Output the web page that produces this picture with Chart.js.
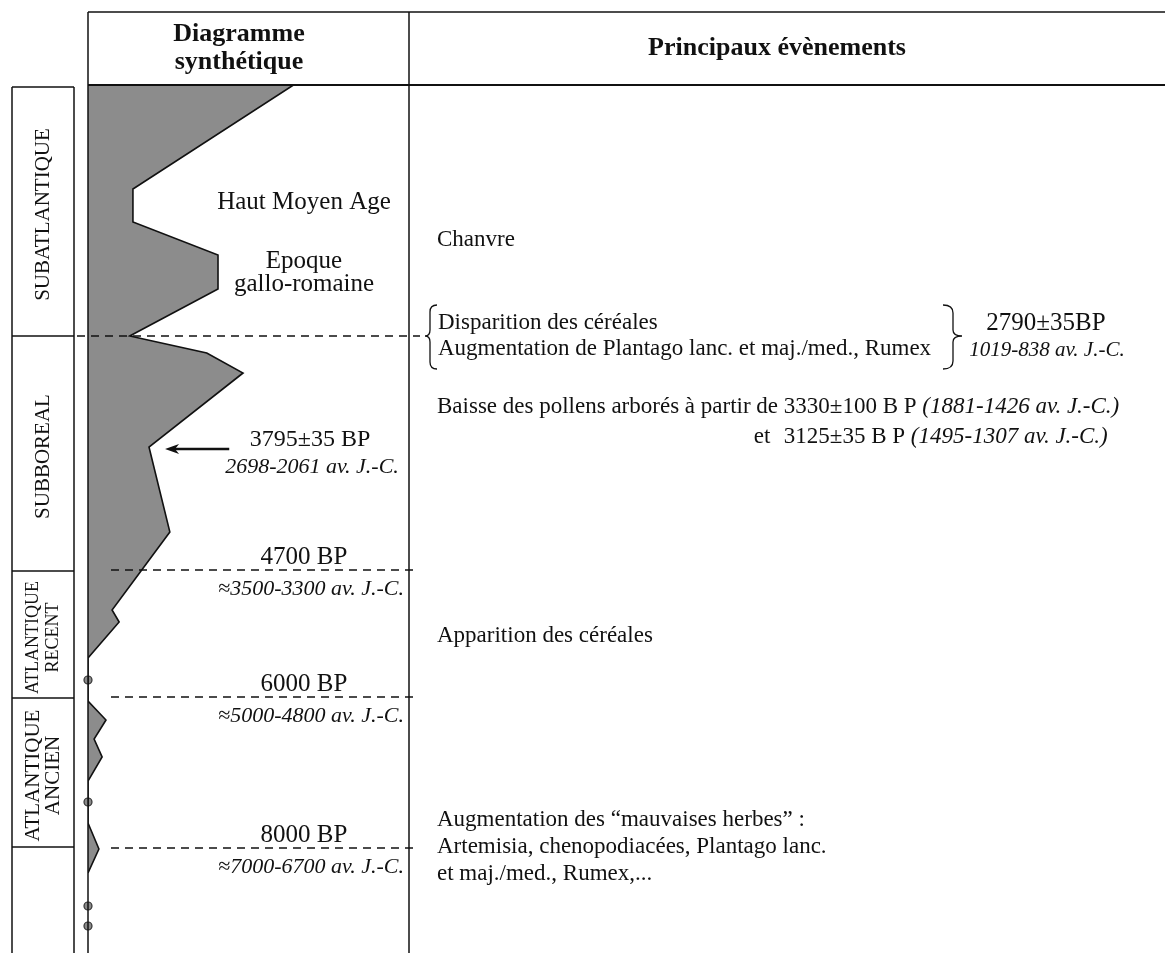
<!DOCTYPE html>
<html lang="fr">
<head>
<meta charset="UTF-8">
<title>Diagramme synthétique</title>
<script src="https://cdn.jsdelivr.net/npm/chart.js"></script>
<style>
  body { margin: 0; background: #fff; }
  canvas { display: block; }
</style>
</head>
<body>
<canvas id="diagram" width="1165" height="953"></canvas>
<script>
// profondeur (unités du diagramme, 0 = sommet) et valeur de la courbe synthétique (%)
const profileDepth = [0, 52, 68.5, 85, 102, 125.5, 134, 144, 181, 223.5, 262.5, 268.5, 286.5, 308, 317.5, 327, 336, 348, 369, 382, 394];
const profileValue = [64, 14, 14, 40.5, 40.5, 13, 37, 48.3, 19, 25.5, 7.5, 9.7, 0, 0, 5.6, 1.9, 4.4, 0, 0, 3.4, 0];
const sampleDepths = [297.5, 358.5, 410.5, 420.5];

// chronozones
const zoneNames = [['SUBATLANTIQUE'], ['SUBBOREAL'], ['ATLANTIQUE', 'RECENT'], ['ATLANTIQUE', 'ANCIEN'], []];
const zoneTops = [1, 125.5, 243, 306.5, 381];
const zoneBottoms = [125.5, 243, 306.5, 381, 434];

// datations
const dateDepths = [125.5, 242.5, 306, 381.5];
const dateBP = ['2790±35BP', '4700 BP', '6000 BP', '8000 BP'];
const dateCal = ['1019-838 av. J.-C.', '≈3500-3300 av. J.-C.', '≈5000-4800 av. J.-C.', '≈7000-6700 av. J.-C.'];

// datation pointée par la flèche
const arrowDepth = 182;
const arrowFrom = 44, arrowTo = 24;
const arrowBP = '3795±35 BP';
const arrowCal = '2698-2061 av. J.-C.';

// périodes historiques
const periodDepths = [58.5, 94];
const periodTexts = [['Haut Moyen Age'], ['Epoque', 'gallo-romaine']];

// principaux évènements
const eventDepths = [77.5, 125.5, 168.5, 275.5, 381];
const eventTexts = [
  ['Chanvre'],
  ['Disparition des céréales', 'Augmentation de Plantago lanc. et maj./med., Rumex'],
  ['Baisse des pollens arborés à partir de 3330±100 B P (1881-1426 av. J.-C.)', 'et  3125±35 B P (1495-1307 av. J.-C.)'],
  ['Apparition des céréales'],
  ['Augmentation des “mauvaises herbes” :', 'Artemisia, chenopodiacées, Plantago lanc.', 'et maj./med., Rumex,...']
];

const SERIF = '"Liberation Serif", "Times New Roman", serif';
const INK = '#111';

function font(size, style) { return (style || '') + ' ' + size + 'px ' + SERIF; }

// texte normal, puis partie entre parenthèses en italique
function mixedText(ctx, str, x, y, size) {
  const k = str.indexOf('(');
  const plain = k < 0 ? str : str.slice(0, k);
  ctx.font = font(size);
  ctx.fillText(plain, x, y);
  if (k >= 0) {
    const w = ctx.measureText(plain).width;
    ctx.font = font(size, 'italic');
    ctx.fillText(str.slice(k), x + w, y);
  }
}

function hLine(ctx, x1, x2, y, w) {
  ctx.lineWidth = w; ctx.beginPath(); ctx.moveTo(x1, y); ctx.lineTo(x2, y); ctx.stroke();
}
function vLine(ctx, x, y1, y2, w) {
  ctx.lineWidth = w; ctx.beginPath(); ctx.moveTo(x, y1); ctx.lineTo(x, y2); ctx.stroke();
}

const tablePlugin = {
  id: 'table',
  afterDatasetsDraw(chart) {
    const ctx = chart.ctx;
    const ys = chart.scales.y, xs = chart.scales.x;
    ctx.save();
    ctx.strokeStyle = INK;
    // lignes de datation en tirets
    ctx.setLineDash([8, 6]);
    dateDepths.forEach((d, i) => {
      const y = ys.getPixelForValue(d);
      hLine(ctx, i === 0 ? 77 : 111, i === 0 ? 420 : 414, y, 1.3);
    });
    ctx.setLineDash([]);

    // flèche
    const ay = ys.getPixelForValue(arrowDepth);
    const ax1 = xs.getPixelForValue(arrowFrom), ax2 = xs.getPixelForValue(arrowTo);
    hLine(ctx, ax1, ax2 + 8, ay, 2.5);
    ctx.fillStyle = INK;
    ctx.beginPath();
    ctx.moveTo(ax2, ay); ctx.lineTo(ax2 + 14, ay - 5); ctx.lineTo(ax2 + 10, ay); ctx.lineTo(ax2 + 14, ay + 5);
    ctx.closePath(); ctx.fill();
    ctx.restore();
  },
  afterDraw(chart) {
    const ctx = chart.ctx;
    const a = chart.chartArea;
    const ys = chart.scales.y;
    const W = chart.width, H = chart.height;
    const headTop = 12;
    ctx.save();
    ctx.strokeStyle = INK;
    ctx.fillStyle = INK;

    // cadre du tableau
    hLine(ctx, a.left, W, headTop, 1.5);
    hLine(ctx, a.left, W, a.top, 2.2);
    vLine(ctx, a.left, headTop, H, 1.5);
    vLine(ctx, a.right, headTop, H, 1.5);

    // en-têtes
    ctx.textAlign = 'center';
    ctx.textBaseline = 'middle';
    ctx.font = font(26, 'bold');
    ctx.fillText('Diagramme', 239, 34);
    ctx.fillText('synthétique', 239, 62);
    ctx.fillText('Principaux évènements', 777, 48);

    // chronozones
    const zl = 12, zr = 74;
    zoneNames.forEach((names, i) => {
      const t = ys.getPixelForValue(zoneTops[i]);
      const b = i === zoneNames.length - 1 ? H : ys.getPixelForValue(zoneBottoms[i]);
      vLine(ctx, zl, t, b, 1.5);
      vLine(ctx, zr, t, b, 1.5);
      hLine(ctx, zl, zr, t, 1.5);
      if (!names.length) return;
      const size = names.length > 1 && i === 2 ? 18 : 21;
      ctx.save();
      ctx.translate((zl + zr) / 2, (t + b) / 2 + 3);
      ctx.rotate(-Math.PI / 2);
      ctx.font = font(size);
      names.forEach((n, j) => ctx.fillText(n, 0, (j - (names.length - 1) / 2) * 20));
      ctx.restore();
    });

    // périodes historiques
    ctx.textAlign = 'center';
    ctx.font = font(25);
    periodTexts.forEach((lines, i) => {
      const yc = ys.getPixelForValue(periodDepths[i]);
      lines.forEach((l, j) => ctx.fillText(l, 304, yc + (j - (lines.length - 1) / 2) * 23));
    });

    // datations (colonne du diagramme et colonne des évènements)
    dateDepths.forEach((d, i) => {
      const y = ys.getPixelForValue(d);
      if (i === 0) {
        ctx.font = font(25);
        ctx.fillText(dateBP[i], 1046, y - 13);
        ctx.font = font(21, 'italic');
        ctx.fillText(dateCal[i], 1047, y + 14);
      } else {
        ctx.font = font(25);
        ctx.fillText(dateBP[i], 304, y - 13);
        ctx.font = font(22, 'italic');
        ctx.fillText(dateCal[i], 311, y + 19);
      }
    });
    const ay = ys.getPixelForValue(arrowDepth);
    ctx.font = font(24);
    ctx.fillText(arrowBP, 310, ay - 9);
    ctx.font = font(22, 'italic');
    ctx.fillText(arrowCal, 312, ay + 18);

    // évènements
    ctx.textAlign = 'left';
    const ex = 437, gap = 27;
    let numX = ex;
    eventTexts.forEach((lines, i) => {
      const yc = ys.getPixelForValue(eventDepths[i]);
      const g = i === 1 ? 26 : (i === 2 ? 30 : gap);
      lines.forEach((l, j) => {
        const y = yc + (j - (lines.length - 1) / 2) * g;
        if (l.startsWith('et  ')) {
          ctx.font = font(23);
          ctx.fillText('et', numX - 30, y);
          mixedText(ctx, l.slice(4), numX, y, 23);
        } else {
          if (l.indexOf('3330') > 0) {
            ctx.font = font(23);
            numX = ex + ctx.measureText(l.slice(0, l.indexOf('3330'))).width;
          }
          mixedText(ctx, l, i === 1 ? ex + 1 : ex, y, 23);
        }
      });
      if (i === 1) {
        // accolades
        ctx.lineWidth = 1.3;
        const t = yc - 31, b = yc + 33;
        ctx.beginPath();
        ctx.moveTo(437, t);
        ctx.quadraticCurveTo(430, t, 430, t + 7);
        ctx.lineTo(430, yc - 6);
        ctx.quadraticCurveTo(430, yc, 425, yc);
        ctx.quadraticCurveTo(430, yc, 430, yc + 6);
        ctx.lineTo(430, b - 7);
        ctx.quadraticCurveTo(430, b, 437, b);
        ctx.stroke();
        ctx.beginPath();
        ctx.moveTo(943, t);
        ctx.quadraticCurveTo(953, t, 953, t + 8);
        ctx.lineTo(953, yc - 6);
        ctx.quadraticCurveTo(953, yc, 962, yc);
        ctx.quadraticCurveTo(953, yc, 953, yc + 6);
        ctx.lineTo(953, b - 8);
        ctx.quadraticCurveTo(953, b, 943, b);
        ctx.stroke();
      }
    });
    ctx.restore();
  }
};

const ctx = document.getElementById('diagram').getContext('2d');
const chart = new Chart(ctx, {
  type: 'line',
  data: {
    datasets: [
      {
        label: 'Diagramme synthétique',
        data: profileDepth.map((d, i) => ({ x: profileValue[i], y: d })),
        borderColor: INK,
        borderWidth: 1.6,
        backgroundColor: '#8c8c8c',
        fill: 'origin',
        pointRadius: 0,
        tension: 0
      },
      {
        label: 'Échantillons',
        data: sampleDepths.map(d => ({ x: 0, y: d })),
        showLine: false,
        clip: false,
        pointRadius: 4,
        pointBackgroundColor: '#8a8a8a',
        pointBorderColor: '#333',
        pointBorderWidth: 1.2
      }
    ]
  },
  options: {
    indexAxis: 'y',
    responsive: false,
    animation: false,
    devicePixelRatio: 1,
    layout: { autoPadding: false, padding: { left: 88, right: 756, top: 85, bottom: 0 } },
    scales: {
      x: { type: 'linear', min: 0, max: 100, display: false },
      y: { type: 'linear', min: 0, max: 434, reverse: true, display: false }
    },
    plugins: { legend: { display: false }, tooltip: { enabled: false } }
  },
  plugins: [tablePlugin]
});
</script>
</body>
</html>
